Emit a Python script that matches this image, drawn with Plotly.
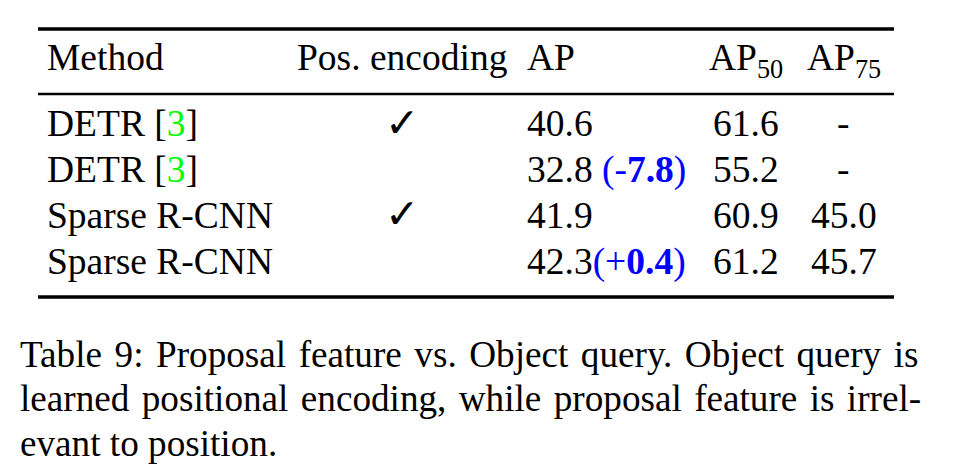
import plotly.graph_objects as go

# ---- data ----
headers = ["Method", "Pos. encoding", "AP", "AP<sub>50</sub>", "AP<sub>75</sub>"]
methods = ["DETR", "DETR", "Sparse R-CNN", "Sparse R-CNN"]
refs = ["3", "3", "", ""]
pos_enc = [True, False, True, False]
ap = [40.6, 32.8, 41.9, 42.3]
ap_delta = [None, -7.8, None, 0.4]
ap_gap = ["", " ", "", ""]
ap50 = [61.6, 55.2, 60.9, 61.2]
ap75 = [None, None, 45.0, 45.7]
caption_lines = [
    "Table 9: Proposal feature vs. Object query. Object query is",
    "learned positional encoding, while proposal feature is irrel-",
    "evant to position.",
]

# ---- style ----
W, H = 964, 476
PAGE_MARGIN = 8  # default body margin of the html page
FONT = "Liberation Serif, Times New Roman, serif"
FS = 37.5
CFS = 37.2
BLUE = "#0000ff"
GREEN = "#00ff00"
ASC = 0.891  # font ascent ratio

# column geometry: (x, anchor)
col_x = [47, 402, 527, 746, 843.5]
col_anchor = ["left", "center", "left", "center", "center"]
header_base = 71
row_base = [137.7, 183.5, 229.3, 275.1]
rules = [(29, 3.5), (94, 2.3), (297, 3.5)]
rule_x = (38, 894)
cap_x = 20
cap_base = [367.7, 412.2, 456.7]
cap_word_spacing = [3.2, 3.05, 0]
CHECK_FS = 41

fig = go.Figure()
fig.add_trace(go.Scatter(x=[PAGE_MARGIN, W], y=[PAGE_MARGIN, H], mode="markers",
                         marker=dict(opacity=0), hoverinfo="skip", showlegend=False))

ann = []


def add(text, x, base, anchor, fs=FS, family=FONT, asc=ASC):
    ann.append(dict(x=x, y=base - asc * fs - 1, xref="x", yref="y", text=text,
                    showarrow=False, xanchor=anchor, yanchor="top",
                    font=dict(family=family, size=fs, color="black"),
                    borderpad=0, borderwidth=0, align="left"))


for h, x, a in zip(headers, col_x, col_anchor):
    add(h, x, header_base, a)

for i in range(len(methods)):
    b = row_base[i]
    m = methods[i]
    if refs[i]:
        m += ' [<span style="color:%s">%s</span>]' % (GREEN, refs[i])
    add(m, col_x[0], b, "left")
    if pos_enc[i]:
        add("✓", col_x[1], b, "center", fs=CHECK_FS, family="DejaVu Sans", asc=0.928)
    t = "%.1f" % ap[i]
    d = ap_delta[i]
    if d is not None:
        sign = "-" if d < 0 else "+"
        t += ap_gap[i] + '<span style="color:%s">(%s<b>%.1f</b>)</span>' % (BLUE, sign, abs(d))
    add(t, col_x[2], b, "left")
    add("%.1f" % ap50[i], col_x[3], b, "center")
    add("-" if ap75[i] is None else "%.1f" % ap75[i], col_x[4], b, "center")

for line, b, ws in zip(caption_lines, cap_base, cap_word_spacing):
    txt = '<span style="word-spacing:%spx">%s</span>' % (ws, line) if ws else line
    add(txt, cap_x, b, "left", fs=CFS)

shapes = [dict(type="line", xref="x", yref="y", x0=rule_x[0], x1=rule_x[1], y0=y, y1=y,
               line=dict(color="black", width=w)) for y, w in rules]

fig.update_layout(
    width=W - PAGE_MARGIN, height=H - PAGE_MARGIN, margin=dict(l=0, r=0, t=0, b=0),
    paper_bgcolor="white", plot_bgcolor="white",
    xaxis=dict(range=[PAGE_MARGIN, W], visible=False, fixedrange=True),
    yaxis=dict(range=[H, PAGE_MARGIN], visible=False, fixedrange=True),
    annotations=ann, shapes=shapes, showlegend=False,
)
fig.write_html("out.html", config={"displayModeBar": False})
